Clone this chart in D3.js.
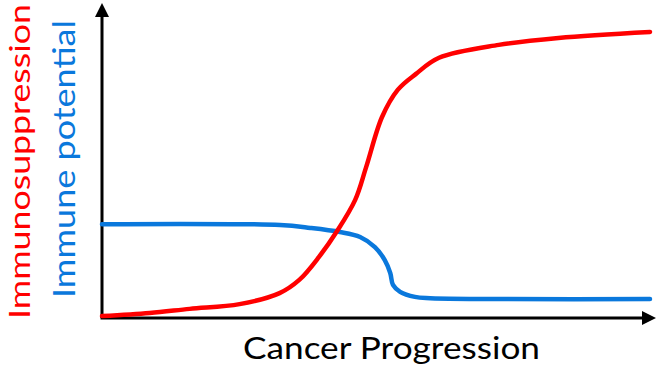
<!DOCTYPE html>
<html>
<head>
<meta charset="utf-8">
<script src="https://cdn.jsdelivr.net/npm/d3@7"></script>
<style>
  html, body { margin: 0; padding: 0; background: #fff; }
  svg { display: block; }
</style>
</head>
<body>
<svg width="661" height="373"></svg>
<script>
// progression (0-100) vs level (0-100)
const redX  = [0, 8.7, 16, 25.1, 32.4, 36, 39.6, 42.9, 46.2, 48.2, 51.1, 54, 57.3, 61.5, 72.4, 83.3, 100];
const redY  = [0.6, 1.6, 2.9, 4.4, 7.9, 12.1, 19.4, 27.6, 37.5, 47.9, 63.8, 72.5, 77.5, 82.6, 86.7, 88.9, 90.8];
const blueX = [0, 32.5, 38, 43.4, 47.1, 49.8, 51.6, 52.6, 53.1, 54.4, 57.1, 59.9, 100];
const blueY = [29.8, 29.5, 28.6, 27.3, 25.7, 22.5, 18.4, 14.3, 10.5, 8.3, 6.7, 6.3, 6.0];

const xLabel = 'Cancer Progression';
const redLabel = 'Immunosuppression';
const blueLabel = 'Immune potential';

const RED = '#ff0000';
const BLUE = '#0a78dc';

const svg = d3.select('svg');
const x = d3.scaleLinear().domain([0, 100]).range([102, 650]);
const y = d3.scaleLinear().domain([0, 100]).range([318, 3]);

const font = 'Lato, "Open Sans", sans-serif';

// axes with arrowheads
svg.append('line')
  .attr('x1', x(0)).attr('y1', y(0)).attr('x2', x(0)).attr('y2', y(100) + 12)
  .attr('stroke', '#000').attr('stroke-width', 3);
svg.append('path')
  .attr('d', `M${x(0)},${y(100)} L${x(0) - 7},${y(100) + 14} L${x(0) + 7},${y(100) + 14} Z`)
  .attr('fill', '#000');

const xEnd = 656;
svg.append('line')
  .attr('x1', x(0) - 1.5).attr('y1', y(0)).attr('x2', xEnd - 12).attr('y2', y(0))
  .attr('stroke', '#000').attr('stroke-width', 3);
svg.append('path')
  .attr('d', `M${xEnd},${y(0)} L${xEnd - 14},${y(0) - 7} L${xEnd - 14},${y(0) + 7} Z`)
  .attr('fill', '#000');

// curves
const line = d3.line()
  .x(d => x(d[0]))
  .y(d => y(d[1]))
  .curve(d3.curveCatmullRom.alpha(0.5));

svg.append('path')
  .attr('d', line(blueX.map((v, i) => [v, blueY[i]])))
  .attr('fill', 'none').attr('stroke', BLUE).attr('stroke-width', 4.5)
  .attr('stroke-linecap', 'round');

svg.append('path')
  .attr('d', line(redX.map((v, i) => [v, redY[i]])))
  .attr('fill', 'none').attr('stroke', RED).attr('stroke-width', 4.5)
  .attr('stroke-linecap', 'round');

// labels
svg.append('text')
  .attr('transform', 'translate(30,319) rotate(-90)')
  .attr('font-family', font).attr('font-size', 29)
  .attr('fill', RED)
  .attr('textLength', 315).attr('lengthAdjust', 'spacingAndGlyphs')
  .text(redLabel);

svg.append('text')
  .attr('transform', 'translate(75,298) rotate(-90)')
  .attr('font-family', font).attr('font-size', 30)
  .attr('fill', BLUE)
  .attr('textLength', 278).attr('lengthAdjust', 'spacingAndGlyphs')
  .text(blueLabel);

svg.append('text')
  .attr('x', 243).attr('y', 359)
  .attr('font-family', font).attr('font-size', 30)
  .attr('fill', '#000')
  .attr('textLength', 297).attr('lengthAdjust', 'spacingAndGlyphs')
  .text(xLabel);
</script>
</body>
</html>
